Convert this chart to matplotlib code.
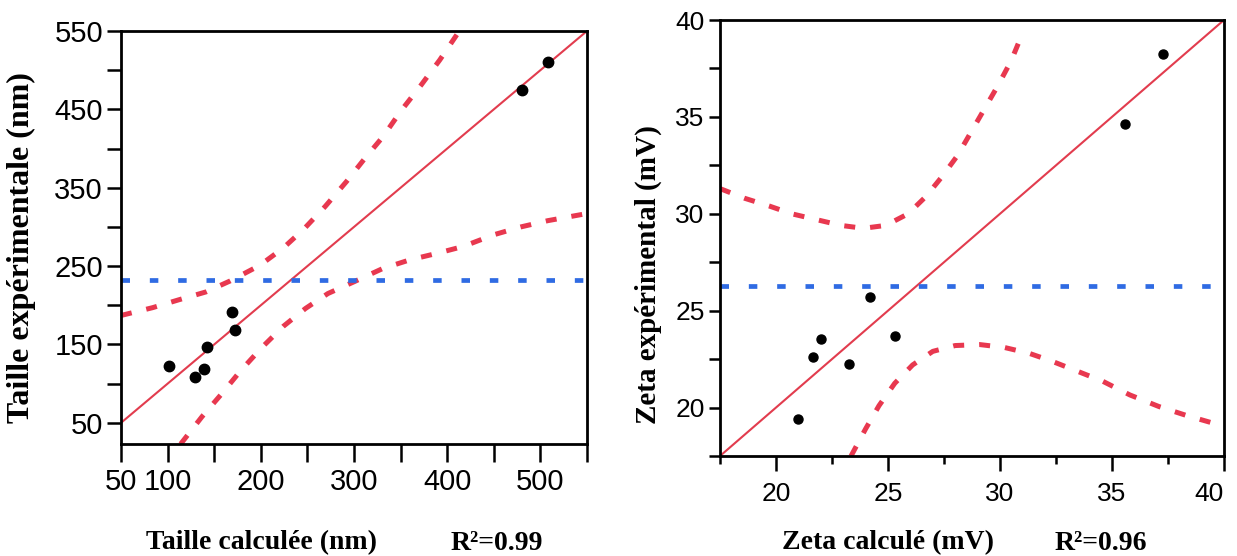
import matplotlib
matplotlib.use("Agg")
import matplotlib.pyplot as plt

# ---------------- data: left panel (size) ----------------
taille_calc = [101, 129, 139, 142, 169, 172, 480, 508]
taille_exp = [123, 109, 119, 147, 192, 168, 475, 511]
taille_mean = 232
taille_fit_x = [50, 550]
taille_fit_y = [50, 550]
taille_up_x = [50, 84, 112, 141, 167, 199, 224, 246, 269, 292, 312, 331, 351, 372, 392, 413]
taille_up_y = [187, 197, 207, 217, 231, 251, 273, 297, 326, 358, 388, 415, 449, 481, 513, 550]
taille_lo_x = [114, 137, 158, 178, 201, 224, 248, 272, 300, 331, 360, 388, 417, 450, 479, 508, 545]
taille_lo_y = [23, 58, 87, 116, 146, 173, 196, 215, 230, 247, 258, 266, 275, 290, 300, 308, 316]
taille_xticks = [50, 100, 150, 200, 250, 300, 350, 400, 450, 500, 550]
taille_xlabels = ["50", "100", "", "200", "", "300", "", "400", "", "500", ""]
taille_yticks = [50, 100, 150, 200, 250, 300, 350, 400, 450, 500, 550]
taille_ylabels = ["50", "", "150", "", "250", "", "350", "", "450", "", "550"]

# ---------------- data: right panel (zeta) ----------------
zeta_calc = [20.96, 21.67, 22.0, 23.25, 24.21, 25.3, 35.59, 37.26]
zeta_exp = [19.4, 22.6, 23.56, 22.27, 25.72, 23.7, 34.64, 38.23]
zeta_mean = 26.25
zeta_fit_x = [17.5, 40]
zeta_fit_y = [17.5, 40]
zeta_up_x = [17.5, 18.6, 19.7, 20.7, 21.8, 22.9, 23.9, 24.9, 25.9, 26.7, 27.4, 28.1, 28.7, 29.3, 29.9, 30.5, 31.0]
zeta_up_y = [31.3, 30.8, 30.4, 30.0, 29.7, 29.4, 29.25, 29.4, 30.0, 30.9, 31.9, 33.0, 34.2, 35.4, 36.6, 37.9, 39.3]
zeta_lo_x = [23.35, 24.0, 24.6, 25.3, 26.1, 27.0, 28.0, 29.1, 30.2, 31.3, 32.3, 33.4, 34.6, 35.8, 37.1, 38.3, 39.5]
zeta_lo_y = [17.5, 18.9, 20.1, 21.25, 22.2, 22.9, 23.2, 23.25, 23.1, 22.8, 22.4, 21.9, 21.35, 20.65, 20.05, 19.6, 19.2]
zeta_major = [20, 25, 30, 35, 40]
zeta_minor = [17.5, 22.5, 27.5, 32.5, 37.5]

RED = "#e23c4e"
RED_D = "#e8384f"
BLUE = "#2f6be3"

tick_font = ["Liberation Sans", "DejaVu Sans"]
label_font = ["Liberation Serif", "DejaVu Serif"]

fig = plt.figure(figsize=(12.37, 5.56), dpi=100)

# ---------- left panel ----------
ax1 = fig.add_axes([121/1237, 1-444/556, (587-121)/1237, (444-31)/556])
ax1.plot(taille_fit_x, taille_fit_y, color=RED, lw=1.5, zorder=2)
ax1.plot(taille_up_x, taille_up_y, color=RED_D, lw=3.6, dashes=(2.2, 3.0), zorder=2)
ax1.plot(taille_lo_x, taille_lo_y, color=RED_D, lw=3.6, dashes=(2.2, 3.0), zorder=2)
ax1.axhline(taille_mean, color=BLUE, lw=3.4, dashes=(1.8, 4.2), zorder=2)
ax1.plot(taille_calc, taille_exp, "o", color="black", ms=7.5, zorder=3)
ax1.set_xlim(50, 550)
ax1.set_ylim(23, 550)
ax1.set_xticks(taille_xticks)
ax1.set_xticklabels(taille_xlabels)
ax1.set_yticks(taille_yticks)
ax1.set_yticklabels(taille_ylabels)
ax1.tick_params(axis="x", length=13, width=1.8, direction="out", pad=4)
ax1.tick_params(axis="y", length=10, width=1.8, direction="out", pad=3)
for lab in ax1.get_xticklabels() + ax1.get_yticklabels():
    lab.set_family(tick_font)
    lab.set_fontsize(21)

# ---------- right panel ----------
ax2 = fig.add_axes([720/1237, 1-456/556, (1224-720)/1237, (456-20)/556])
ax2.plot(zeta_fit_x, zeta_fit_y, color=RED, lw=1.5, zorder=2)
ax2.plot(zeta_up_x, zeta_up_y, color=RED_D, lw=3.6, dashes=(2.2, 3.0), zorder=2)
ax2.plot(zeta_lo_x, zeta_lo_y, color=RED_D, lw=3.6, dashes=(2.2, 3.0), zorder=2)
ax2.axhline(zeta_mean, color=BLUE, lw=3.4, dashes=(1.8, 4.2), zorder=2)
ax2.plot(zeta_calc, zeta_exp, "o", color="black", ms=6.5, zorder=3)
ax2.set_xlim(17.5, 40)
ax2.set_ylim(17.5, 40)
ax2.set_xticks(zeta_major)
ax2.set_xticks(zeta_minor, minor=True)
ax2.set_yticks(zeta_major)
ax2.set_yticks(zeta_minor, minor=True)
ax2.tick_params(axis="x", which="major", length=11, width=1.8, pad=8)
ax2.tick_params(axis="x", which="minor", length=6, width=1.8)
ax2.tick_params(axis="y", which="both", length=8, width=1.8, pad=3)
for lab in ax2.get_xticklabels() + ax2.get_yticklabels():
    lab.set_family(tick_font)
    lab.set_fontsize(19)
xl = ax2.get_xticklabels()
xl[-1].set_horizontalalignment("right")
xl[-1].set_x(40.55)

for ax in (ax1, ax2):
    for s in ax.spines.values():
        s.set_linewidth(2)

# ---------- axis titles ----------
fig.text(21/1237, 1-248/556, "Taille expérimentale (nm)", rotation=90,
         ha="center", va="center", fontsize=23, fontweight="bold", family=label_font)
fig.text(261/1237, 1-543/556, "Taille calculée (nm)", ha="center", va="center",
         fontsize=20, fontweight="bold", family=label_font)
fig.text(497/1237, 1-543/556, "R²=0.99", ha="center", va="center",
         fontsize=20, fontweight="bold", family=label_font)
fig.text(648/1237, 1-275/556, "Zeta expérimental (mV)", rotation=90,
         ha="center", va="center", fontsize=21, fontweight="bold", family=label_font)
fig.text(888/1237, 1-543/556, "Zeta calculé (mV)", ha="center", va="center",
         fontsize=20, fontweight="bold", family=label_font)
fig.text(1101/1237, 1-543/556, "R²=0.96", ha="center", va="center",
         fontsize=20, fontweight="bold", family=label_font)

fig.savefig("out.png", dpi=100)
